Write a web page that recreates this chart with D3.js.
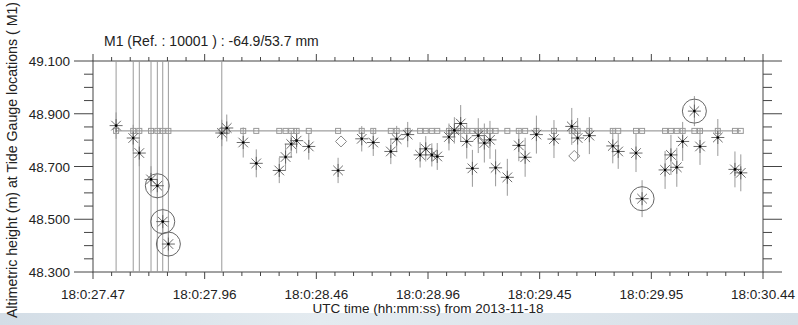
<!DOCTYPE html>
<html lang="en">
<head>
<meta charset="utf-8">
<title>M1 altimetric height at tide gauge</title>
<script src="https://d3js.org/d3.v7.min.js"></script>
<style>
  body { margin: 0; background: #fff; }
  text { font-family: "Liberation Sans", Arial, Helvetica, sans-serif; fill: #222; }
</style>
</head>
<body>
<svg id="chart" width="798" height="325"></svg>
<script>
// seconds after 18:00 for each measurement
const times = [27.571, 27.647, 27.674, 27.726, 27.754, 27.778, 27.803, 28.040, 28.062, 28.135,
  28.193, 28.295, 28.323, 28.348, 28.372, 28.426, 28.556, 28.661, 28.712, 28.790,
  28.816, 28.865, 28.920, 28.945, 28.972, 28.996, 29.048, 29.072, 29.100, 29.127,
  29.152, 29.178, 29.205, 29.230, 29.255, 29.307, 29.358, 29.386, 29.436, 29.514,
  29.593, 29.619, 29.671, 29.775, 29.799, 29.878, 29.905, 30.007, 30.033, 30.059,
  30.085, 30.137, 30.162, 30.241, 30.317, 30.343];
// altimetric heights (m)
const heights = [48.855, 48.808, 48.751, 48.651, 48.627, 48.491, 48.406, 48.827, 48.846, 48.791,
  48.712, 48.685, 48.736, 48.785, 48.798, 48.776, 48.685, 48.805, 48.791, 48.757,
  48.804, 48.821, 48.744, 48.767, 48.744, 48.738, 48.812, 48.837, 48.863, 48.795,
  48.693, 48.817, 48.789, 48.801, 48.695, 48.659, 48.780, 48.735, 48.821, 48.804,
  48.852, 48.808, 48.817, 48.778, 48.757, 48.751, 48.578, 48.687, 48.744, 48.697,
  48.795, 48.910, 48.776, 48.810, 48.689, 48.676];
// half length of error bars (m)
const errors = [0.05, 0.05, 0.05, 0.05, 0.05, 0.05, 0.05, 0.05, 0.051, 0.057,
  0.053, 0.048, 0.05, 0.05, 0.048, 0.05, 0.048, 0.048, 0.051, 0.048,
  0.05, 0.048, 0.048, 0.048, 0.044, 0.051, 0.051, 0.05, 0.07, 0.065,
  0.07, 0.066, 0.074, 0.072, 0.07, 0.07, 0.06, 0.074, 0.072, 0.072,
  0.07, 0.076, 0.07, 0.066, 0.066, 0.072, 0.07, 0.072, 0.076, 0.074,
  0.074, 0.057, 0.07, 0.07, 0.068, 0.07];
// tide gauge level at each measurement (m)
const gauge = [48.835, 48.835, 48.835, 48.835, 48.835, 48.835, 48.835, 48.835, 48.835, 48.835,
  48.835, 48.835, 48.835, 48.835, 48.835, 48.835, 48.835, 48.835, 48.835, 48.835,
  48.835, 48.835, 48.835, 48.835, 48.835, 48.835, 48.835, 48.835, 48.835, 48.835,
  48.835, 48.835, 48.835, 48.835, 48.835, 48.835, 48.835, 48.835, 48.835, 48.835,
  48.835, 48.835, 48.835, 48.835, 48.835, 48.835, 48.835, 48.835, 48.835, 48.835,
  48.835, 48.835, 48.835, 48.835, 48.835, 48.835];
const circled = [4, 5, 6, 46, 51];        // outliers
const flagged = [0, 1, 2, 3, 4, 5, 6, 7]; // rejected (full height line)
const diamondTimes = [28.569, 29.604];
const diamondHeights = [48.795, 48.740];

const xTickLabels = ["18:0:27.47", "18:0:27.96", "18:0:28.46", "18:0:28.96", "18:0:29.45", "18:0:29.95", "18:0:30.44"];
const yTicks = [49.1, 48.9, 48.7, 48.5, 48.3];
const yTickLabels = ["49.100", "48.900", "48.700", "48.500", "48.300"];

const W = 798, H = 325;
const pLeft = 93, pRight = 763, pTop = 61, pBottom = 272;
const tStart = 27.4685, tStep = 0.4955;

const svg = d3.select("#chart");

let x = d3.scaleLinear().domain([tStart, tStart + 6 * tStep]).range([pLeft, pRight]);
let y = d3.scaleLinear().domain([48.3, 49.1]).range([pBottom, pTop]);

// light band at the bottom of the screenshot
let grad = svg.append("defs").append("linearGradient").attr("id", "band");
grad.append("stop").attr("offset", "0%").attr("stop-color", "#d3dde6");
grad.append("stop").attr("offset", "40%").attr("stop-color", "#e4ebf0");
grad.append("stop").attr("offset", "100%").attr("stop-color", "#d6dfe7");
svg.append("rect").attr("x", 0).attr("y", 313).attr("width", W).attr("height", H - 313)
    .attr("fill", "url(#band)");

// axes
let majorX = d3.range(7).map(i => tStart + i * tStep);
let minorX = d3.range(37).map(i => tStart + i * tStep / 6);
let minorY = d3.range(17).map(i => 48.3 + i * 0.05);

let axes = svg.append("g").attr("stroke", "#444").attr("stroke-width", 1).attr("fill", "none");
axes.append("rect").attr("x", pLeft).attr("y", pTop).attr("width", pRight - pLeft).attr("height", pBottom - pTop);

axes.selectAll(".xminb").data(minorX).join("line")
    .attr("x1", d => x(d)).attr("x2", d => x(d))
    .attr("y1", pBottom).attr("y2", (d, i) => i % 6 === 0 ? pBottom + 7 : pBottom + 4);
axes.selectAll(".xmint").data(minorX).join("line")
    .attr("x1", d => x(d)).attr("x2", d => x(d))
    .attr("y1", pTop).attr("y2", (d, i) => i % 6 === 0 ? pTop - 7 : pTop - 4);
axes.selectAll(".yminl").data(minorY).join("line")
    .attr("y1", d => y(d)).attr("y2", d => y(d))
    .attr("x1", pLeft).attr("x2", (d, i) => i % 4 === 0 ? pLeft - 19 : pLeft - 9);
axes.selectAll(".yminr").data(minorY).join("line")
    .attr("y1", d => y(d)).attr("y2", d => y(d))
    .attr("x1", pRight).attr("x2", (d, i) => i % 4 === 0 ? pRight + 19 : pRight + 9);

svg.selectAll(".xlab").data(majorX).join("text")
    .attr("x", d => x(d)).attr("y", 299)
    .attr("text-anchor", "middle").style("font-size", "13.5px")
    .text((d, i) => xTickLabels[i]);
svg.selectAll(".ylab").data(yTicks).join("text")
    .attr("x", 70).attr("y", d => y(d) + 5)
    .attr("text-anchor", "end").style("font-size", "13.5px")
    .text((d, i) => yTickLabels[i]);

svg.append("text").attr("x", 428).attr("y", 313).attr("text-anchor", "middle")
    .style("font-size", "13.5px").text("UTC time (hh:mm:ss) from 2013-11-18");
svg.append("text").attr("transform", "translate(17,160) rotate(-90)").attr("text-anchor", "middle")
    .style("font-size", "14.2px").text("Altimetric height (m) at Tide Gauge locations ( M1)");
svg.append("text").attr("x", 104).attr("y", 46)
    .style("font-size", "14px").text("M1 (Ref. : 10001 ) : -64.9/53.7 mm");

let plot = svg.append("g");

// full height lines for rejected points
plot.selectAll(".flag").data(flagged).join("line")
    .attr("x1", i => x(times[i])).attr("x2", i => x(times[i]))
    .attr("y1", pTop).attr("y2", pBottom)
    .attr("stroke", "#9a9a9a").attr("stroke-width", 1);

// tide gauge line and squares
let line = d3.line().x(i => x(times[i])).y(i => y(gauge[i]));
plot.append("path").attr("d", line(d3.range(times.length)))
    .attr("fill", "none").attr("stroke", "#888").attr("stroke-width", 1);
plot.selectAll(".sq").data(d3.range(times.length)).join("rect")
    .attr("x", i => x(times[i]) - 2.5).attr("y", i => y(gauge[i]) - 2.5)
    .attr("width", 5).attr("height", 5)
    .attr("fill", "none").attr("stroke", "#999").attr("stroke-width", 1);

// error bars
plot.selectAll(".err").data(d3.range(times.length)).join("line")
    .attr("x1", i => x(times[i])).attr("x2", i => x(times[i]))
    .attr("y1", i => y(heights[i] + errors[i])).attr("y2", i => y(heights[i] - errors[i]))
    .attr("stroke", "#999").attr("stroke-width", 1);

// diamonds
plot.selectAll(".dia").data(diamondTimes).join("path")
    .attr("d", (d, i) => {
        let cx = x(d), cy = y(diamondHeights[i]), r = 5.5;
        return `M${cx},${cy - r}L${cx + r},${cy}L${cx},${cy + r}L${cx - r},${cy}Z`;
    })
    .attr("fill", "none").attr("stroke", "#888").attr("stroke-width", 1);

// asterisks
let s = 6.5, sd = 4.8;
let stars = plot.selectAll(".star").data(d3.range(times.length)).join("g")
    .attr("transform", i => `translate(${x(times[i])},${y(heights[i])})`);
stars.append("path")
    .attr("d", `M${-s},0L${s},0M0,${-s}L0,${s}M${-sd},${-sd}L${sd},${sd}M${-sd},${sd}L${sd},${-sd}`)
    .attr("stroke", "#5a5a5a").attr("stroke-width", 0.9).attr("fill", "none");
stars.append("circle").attr("r", 1.3).attr("fill", "#000");

// outlier circles
plot.selectAll(".ring").data(circled).join("circle")
    .attr("cx", i => x(times[i])).attr("cy", i => y(heights[i])).attr("r", 12)
    .attr("fill", "none").attr("stroke", "#666").attr("stroke-width", 1);
</script>
</body>
</html>
